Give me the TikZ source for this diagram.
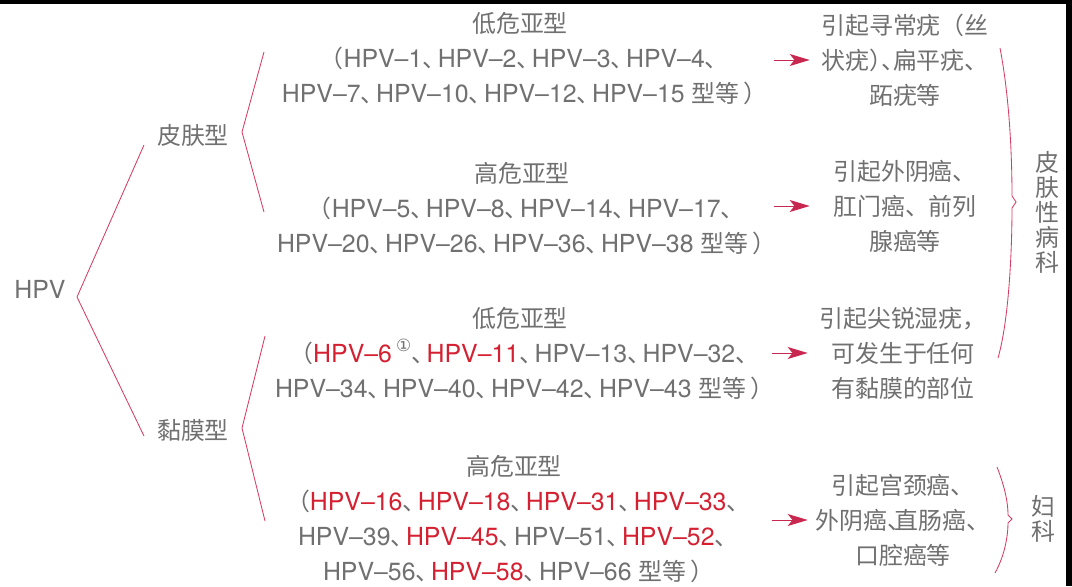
\documentclass[tikz,border=0pt]{standalone}
\usepackage{fontspec}
\setmainfont{TeX Gyre Heros}[Scale=1.04]
\newfontfamily\cjk{Noto Sans CJK SC}
\newfontfamily\sym{DejaVu Sans}
\usetikzlibrary{arrows.meta}

\definecolor{txtgray}{HTML}{707070}
\definecolor{hpvred}{HTML}{D42030}
\definecolor{brkpink}{HTML}{D63C64}
\definecolor{arrred}{HTML}{C8284F}

\newcommand*{\zh}[1]{{\cjk #1}}
\newcommand*{\dun}[1][0.62em]{\makebox[#1][l]{\cjk 、}}
\newcommand*{\lp}{{\cjk （}}
\newcommand*{\rp}{\kern0.15em\makebox[0.6em][l]{\cjk ）}}
\newcommand*{\rph}{\makebox[0.5em][l]{\cjk ）}}
\newcommand*{\hl}[1]{\textcolor{hpvred}{#1}}
\newcommand*{\hpv}[1]{HPV--#1}
\newcommand*{\fnmark}{\,\raisebox{0.45em}{\fontsize{12pt}{12pt}\selectfont\sym ①}}

\newcommand*{\picw}{1072}
\newcommand*{\pich}{586}

\begin{document}
\begin{tikzpicture}
[
	x=0.025cm, y=-0.025cm,
	txt/.style={inner sep=0pt,text=txtgray,align=center,font=\fontsize{17pt}{24.9pt}\selectfont},
	res/.style={txt,text width=4.75cm,font=\fontsize{17pt}{24.9pt}\selectfont\cjk},
	vlbl/.style={txt,font=\fontsize{17pt}{17.8pt}\selectfont\cjk},
	brk/.style={brkpink,line width=0.6pt},
	arr/.style={arrred,line width=0.7pt,-{Stealth[length=0.5cm,width=0.3cm,inset=0.12cm]}}
]

	% frame
	\useasboundingbox (0,0) rectangle (\picw,\pich);
	\fill[black] (0,0) rectangle (\picw,\pich);
	\fill[white] (0,4) rectangle (1066,\pich);

	% root and types
	\node[txt] (hpv) at (40,289) {HPV};
	\node[txt] (skin) at (193,135) {\zh{皮肤型}};
	\node[txt] (mucosa) at (193,430) {\zh{黏膜型}};

	% subtypes
	\node[txt] (skinlow) at (520,59) {\zh{低危亚型}\\
		\lp\hpv{1}\dun\hpv{2}\dun\hpv{3}\dun\hpv{4}\dun\\
		\hpv{7}\dun\hpv{10}\dun\hpv{12}\dun\hpv{15} \zh{型等}\rp};
	\node[txt] (skinhigh) at (522,209) {\zh{高危亚型}\\
		\lp\hpv{5}\dun\hpv{8}\dun\hpv{14}\dun\hpv{17}\dun\\
		\hpv{20}\dun\hpv{26}\dun\hpv{36}\dun\hpv{38} \zh{型等}\rp};
	\node[txt] (mucolow) at (520,354) {\zh{低危亚型}\\
		\lp\hl{\hpv{6}}\fnmark\dun\hl{\hpv{11}}\dun\hpv{13}\dun\hpv{32}\dun\\
		\hpv{34}\dun\hpv{40}\dun\hpv{42}\dun\hpv{43} \zh{型等}\rp};
	\node[txt] (mucohigh) at (514,519) {\zh{高危亚型}\\
		\lp\hl{\hpv{16}}\dun\hl{\hpv{18}}\dun\hl{\hpv{31}}\dun\hl{\hpv{33}}\dun\\
		\hpv{39}\dun\hl{\hpv{45}}\dun\hpv{51}\dun\hl{\hpv{52}}\dun\\
		\hpv{56}\dun\hl{\hpv{58}}\dun\hpv{66} \zh{型等}\rp};

	% diseases
	\node[res] (skinlowres) at (905,60) {引起寻常疣（丝\\状疣\rph\dun[0.5em]扁平疣、\\跖疣等};
	\node[res] (skinhighres) at (905,206) {引起外阴癌、\\肛门癌、前列\\腺癌等};
	\node[res] (mucolowres) at (903,353) {引起尖锐湿疣，\\可发生于任何\\有黏膜的部位};
	\node[res] (mucohighres) at (903,520) {引起宫颈癌、\\外阴癌\dun[0.3em]直肠癌、\\口腔癌等};

	% departments
	\node[vlbl] (derm) at (1047,212) {皮\\肤\\性\\病\\科};
	\node[vlbl] (gyn) at (1043,519) {妇\\科};

	% brackets
	\coordinate (hpvtip) at (77,297);
	\coordinate (skinend) at (144,145);
	\coordinate (mucoend) at (144,436);
	\draw[brk] (skinend) -- (hpvtip) -- (mucoend);

	\coordinate (skintip) at (242,132);
	\coordinate (skinlowend) at (264,52);
	\coordinate (skinhighend) at (264,212);
	\draw[brk] (skinlowend) -- (skintip) -- (skinhighend);

	\coordinate (mucotip) at (242,428);
	\coordinate (mucolowend) at (265,336);
	\coordinate (mucohighend) at (265,521);
	\draw[brk] (mucolowend) -- (mucotip) -- (mucohighend);

	% arrows
	\foreach \r in {skinlowres,skinhighres,mucolowres,mucohighres} {
		\draw[arr] ([xshift=-0.9cm]\r.west) -- (\r.west);
	}

	% braces
	\draw[brk] (1000,48) .. controls (1010,100) and (1012,160) .. (1012,196)
		-- (1016,202) -- (1012,208) .. controls (1012,250) and (1009,320) .. (998,358);
	\draw[brk] (997,467) .. controls (1006,490) and (1008,505) .. (1008,515)
		-- (1012,519) -- (1008,523) .. controls (1008,535) and (1005,555) .. (995,573);

\end{tikzpicture}
\end{document}
